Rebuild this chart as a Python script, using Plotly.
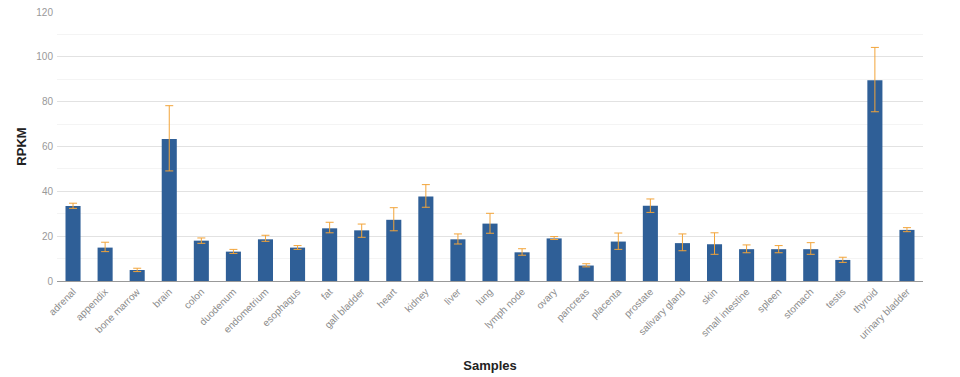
import plotly.graph_objects as go

samples = ["adrenal", "appendix", "bone marrow", "brain", "colon", "duodenum",
           "endometrium", "esophagus", "fat", "gall bladder", "heart", "kidney",
           "liver", "lung", "lymph node", "ovary", "pancreas", "placenta",
           "prostate", "salivary gland", "skin", "small intestine", "spleen",
           "stomach", "testis", "thyroid", "urinary bladder"]
rpkm = [33.5, 14.9, 4.9, 63.3, 18.0, 13.1, 18.6, 14.9, 23.5, 22.6, 27.3, 37.7,
        18.6, 25.6, 12.8, 19.0, 6.9, 17.6, 33.6, 16.9, 16.4, 14.2, 14.2, 14.2,
        9.4, 89.6, 22.8]
err_plus = [1.2, 2.4, 0.8, 14.9, 1.2, 1.0, 1.8, 0.9, 2.7, 2.8, 5.4, 5.3,
            2.4, 4.6, 1.6, 0.8, 0.8, 3.8, 3.0, 4.1, 5.1, 1.9, 1.6, 2.9,
            1.2, 14.6, 1.0]
err_minus = [1.1, 1.8, 0.7, 14.2, 1.2, 0.8, 0.9, 0.8, 2.0, 3.1, 4.9, 4.8,
             2.1, 4.3, 1.3, 0.5, 0.6, 3.5, 3.0, 3.4, 4.5, 1.6, 1.6, 2.3,
             1.1, 14.1, 0.8]
y_ticks = [0, 20, 40, 60, 80, 100, 120]

fig = go.Figure(go.Bar(
    x=samples, y=rpkm,
    marker=dict(color="#2f5f97", line=dict(width=0)),
    error_y=dict(type="data", symmetric=False, array=err_plus,
                 arrayminus=err_minus, color="#f2a43a", thickness=1, width=4),
))

fig.update_layout(
    width=952, height=369,
    margin=dict(l=49, r=37, t=4, b=96, autoexpand=False),
    paper_bgcolor="white", plot_bgcolor="white",
    bargap=0.53,
    showlegend=False,
    font=dict(family="Liberation Sans, Arial, sans-serif", color="#666666", size=11),
    xaxis=dict(
        title=dict(text="<b>Samples</b>", font=dict(size=13, color="#222222"), standoff=20),
        automargin=True,
        tickangle=-45, tickfont=dict(size=10, color="#8c8c8c"),
        showline=True, linecolor="#999999", linewidth=1,
        showgrid=False, ticks="",
    ),
    yaxis=dict(
        title=dict(text="<b>RPKM</b>", font=dict(size=13, color="#222222"), standoff=6),
        automargin=True,
        range=[0, 120], tickvals=y_ticks,
        tickfont=dict(size=10, color="#999999"),
        ticklabelstandoff=3, ticklabeloverflow="allow",
        showgrid=True, gridcolor="#e2e2e2", gridwidth=1,
        minor=dict(dtick=10, showgrid=True, gridcolor="#f4f4f4", gridwidth=1),
        zeroline=False, showline=False, ticks="",
    ),
)

fig.write_html("out.html")
